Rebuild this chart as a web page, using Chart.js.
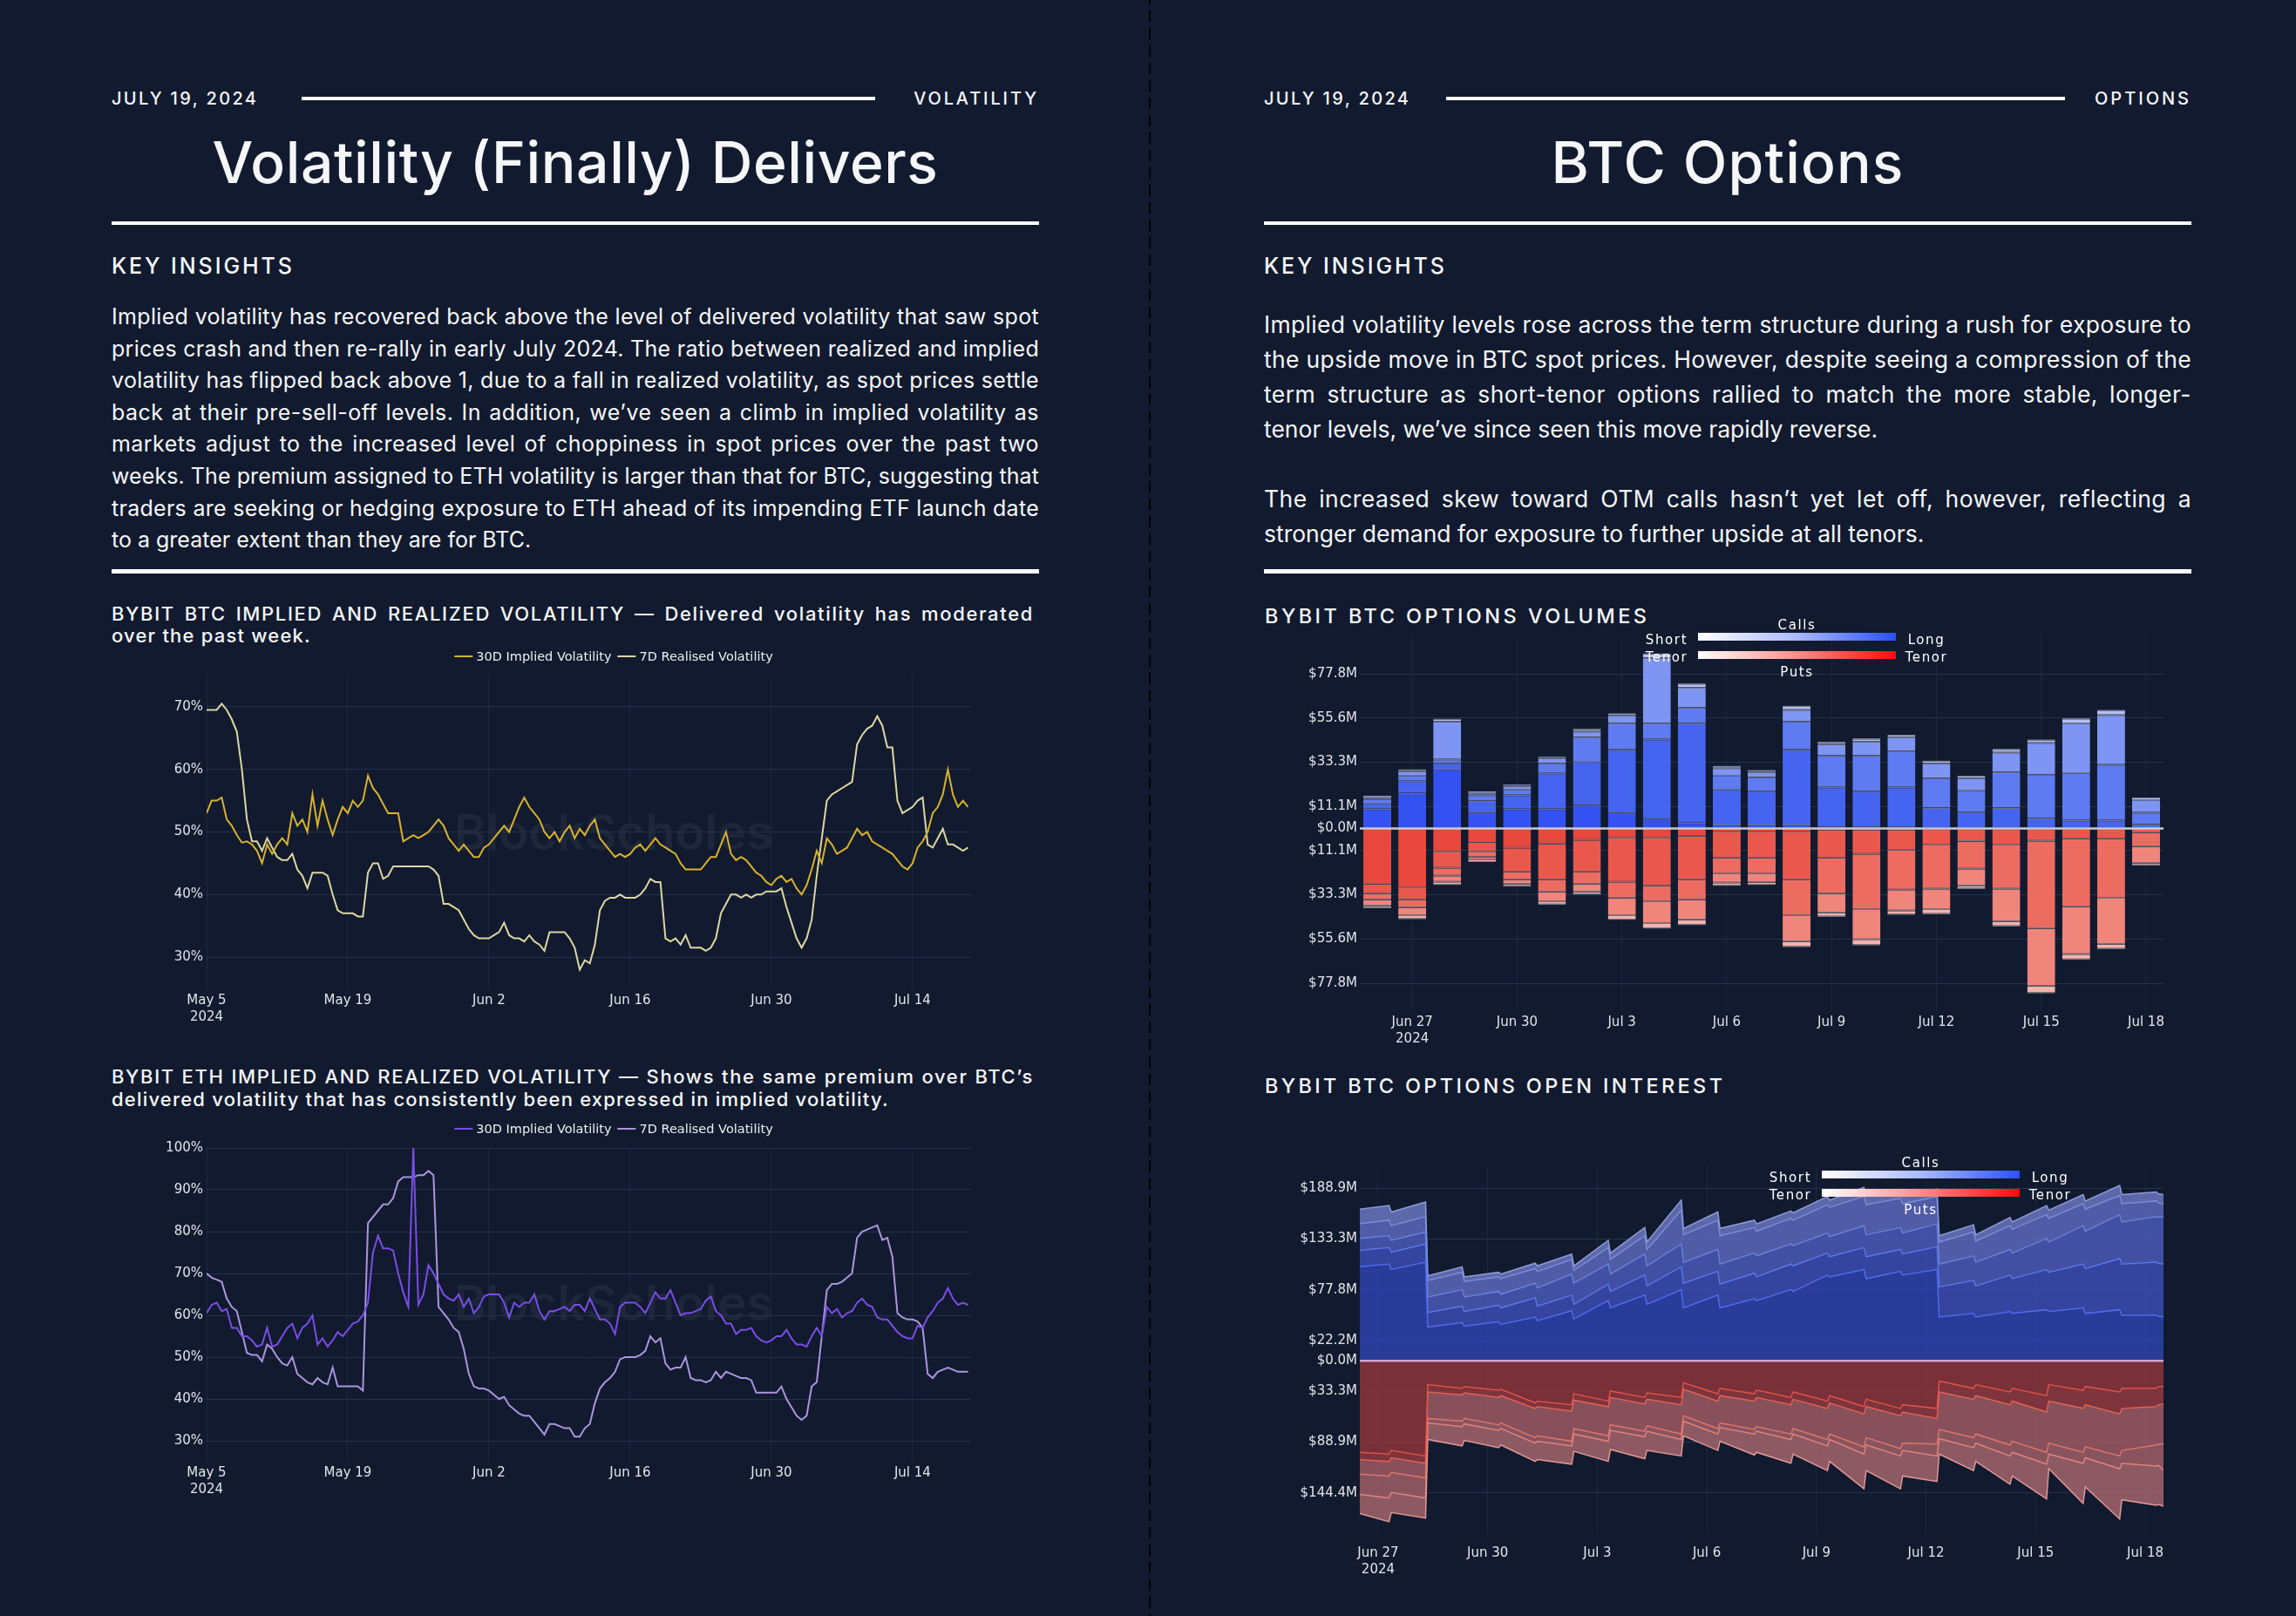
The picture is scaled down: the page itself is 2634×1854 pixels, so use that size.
<!DOCTYPE html>
<html lang="en">
<head>
<meta charset="utf-8">
<title>Volatility (Finally) Delivers / BTC Options</title>
<script src="https://cdn.jsdelivr.net/npm/chart.js@4.4.1/dist/chart.umd.min.js"></script>
<style>
  html, body { margin: 0; padding: 0; background: #111a2e; }
  body { position: relative; width: 2634px; height: 1854px; overflow: hidden; color: #f5f6f8; font-family: Inter, "Noto Sans", sans-serif; }
  .divider { position: absolute; left: 1318px; top: -8px; width: 2px; height: 1870px;
             background: repeating-linear-gradient(to bottom, #000 0 13px, transparent 13px 20px); }
  .hdr { position: absolute; top: 100px; width: 1064px; height: 26px; display: flex; align-items: center; }
  .kicker { font-size: 20px; font-weight: 500; letter-spacing: 2.6px; line-height: 26px; white-space: nowrap; }
  .hdr .rule { flex: 1; height: 4px; background: #fff; margin: 0 44px 0 50px; }
  .title { position: absolute; top: 153px; width: 1064px; text-align: center; font-size: 66px; line-height: 66px; font-weight: 500; white-space: nowrap; }
  .hr { position: absolute; width: 1064px; height: 4px; background: #fff; }
  .key { position: absolute; top: 293px; font-size: 25px; line-height: 25px; font-weight: 500; white-space: nowrap; }
  .body { position: absolute; width: 1064px; font-size: 25px; }
  .jl { text-align: justify; text-align-last: justify; }
  .jl.measure { text-align-last: left; white-space: nowrap; }
  .ctitle { position: absolute; width: 1058px; font-size: 22px; line-height: 25px; font-weight: 500; letter-spacing: 1.2px; }
  .rtitle { position: absolute; font-size: 23.5px; line-height: 24px; font-weight: 500; white-space: nowrap; }
  .cw { position: absolute; z-index: 2; }
  .mark { position: absolute; z-index: 1; transform: translate(-50%, -50%); font-size: 56px; font-weight: 600;
          color: rgba(150, 150, 165, 0.10); white-space: nowrap; }
  .lg { position: absolute; z-index: 3; transform: translate(-50%, -50%); display: flex; align-items: center;
        font-family: "DejaVu Sans", sans-serif; font-size: 14.5px; line-height: 18px; color: #eceef2; white-space: nowrap; }
  .lg .sw { display: inline-block; width: 21px; height: 2px; margin-right: 4px; }
  .lg .gap { display: inline-block; width: 7px; }
  .cb-bar { position: absolute; z-index: 3; width: 227px; height: 9px; }
  .cb-txt { position: absolute; z-index: 3; transform: translate(-50%, -50%); font-family: "DejaVu Sans", sans-serif;
            font-size: 15px; letter-spacing: 1.6px; line-height: 18px; color: #fff; white-space: nowrap; }
</style>
</head>
<body>
<div class="divider"></div>

<!-- left page -->
<div class="hdr" style="left:128px;"><span class="kicker" id="dateL">JULY 19, 2024</span><span class="rule"></span><span class="kicker" id="secL">VOLATILITY</span></div>
<div class="title" style="left:128px;"><span id="titleL">Volatility (Finally) Delivers</span></div>
<div class="hr" style="left:128px;top:254px;"></div>
<div class="key" style="left:128px;"><span id="keyL">KEY INSIGHTS</span></div>
<div class="body" style="left:128px;top:345px;line-height:36.6px;">
  <div class="jl"><span>Implied volatility has recovered back above the level of delivered volatility that saw spot</span></div>
  <div class="jl"><span>prices crash and then re-rally in early July 2024. The ratio between realized and implied</span></div>
  <div class="jl"><span>volatility has flipped back above 1, due to a fall in realized volatility, as spot prices settle</span></div>
  <div class="jl"><span>back at their pre-sell-off levels. In addition, we’ve seen a climb in implied volatility as</span></div>
  <div class="jl"><span>markets adjust to the increased level of choppiness in spot prices over the past two</span></div>
  <div class="jl"><span>weeks. The premium assigned to ETH volatility is larger than that for BTC, suggesting that</span></div>
  <div class="jl"><span>traders are seeking or hedging exposure to ETH ahead of its impending ETF launch date</span></div>
  <div><span>to a greater extent than they are for BTC.</span></div>
</div>
<div class="hr" style="left:128px;top:653px;height:5px;"></div>

<div class="ctitle" style="left:128px;top:692px;">
  <div class="jl"><span>BYBIT BTC IMPLIED AND REALIZED VOLATILITY — Delivered volatility has moderated</span></div>
  <div><span>over the past week.</span></div>
</div>
<div class="mark" style="left:704px;top:955px;">BlockScholes</div>
<div class="cw" style="left:128px;top:755px;width:1006px;height:435px;"><canvas id="btcChart"></canvas></div>
<div class="lg" id="btcLegend" style="left:704px;top:753px;"></div>

<div class="ctitle" style="left:128px;top:1222px;line-height:26px;">
  <div class="jl"><span>BYBIT ETH IMPLIED AND REALIZED VOLATILITY — Shows the same premium over BTC’s</span></div>
  <div><span>delivered volatility that has consistently been expressed in implied volatility.</span></div>
</div>
<div class="mark" style="left:704px;top:1495px;">BlockScholes</div>
<div class="cw" style="left:128px;top:1297px;width:1006px;height:436px;"><canvas id="ethChart"></canvas></div>
<div class="lg" id="ethLegend" style="left:704px;top:1295px;"></div>

<!-- right page -->
<div class="hdr" style="left:1450px;"><span class="kicker" id="dateR">JULY 19, 2024</span><span class="rule" style="margin:0 34px 0 41px;"></span><span class="kicker" id="secR">OPTIONS</span></div>
<div class="title" style="left:1450px;"><span id="titleR">BTC Options</span></div>
<div class="hr" style="left:1450px;top:254px;"></div>
<div class="key" style="left:1450px;"><span id="keyR">KEY INSIGHTS</span></div>
<div class="body" style="left:1450px;top:352px;line-height:40px;font-size:26.5px;">
  <div class="jl"><span>Implied volatility levels rose across the term structure during a rush for exposure to</span></div>
  <div class="jl"><span>the upside move in BTC spot prices. However, despite seeing a compression of the</span></div>
  <div class="jl"><span>term structure as short-tenor options rallied to match the more stable, longer-</span></div>
  <div><span>tenor levels, we’ve since seen this move rapidly reverse.</span></div>
  <div style="height:40px;"></div>
  <div class="jl"><span>The increased skew toward OTM calls hasn’t yet let off, however, reflecting a</span></div>
  <div><span>stronger demand for exposure to further upside at all tenors.</span></div>
</div>
<div class="hr" style="left:1450px;top:653px;height:5px;"></div>

<div class="rtitle" style="left:1451px;top:695px;"><span id="volTitle">BYBIT BTC OPTIONS VOLUMES</span></div>
<div class="cw" style="left:1490px;top:709px;width:1012px;height:501px;"><canvas id="volChart"></canvas></div>

<div class="rtitle" style="left:1451px;top:1234px;"><span id="oiTitle">BYBIT BTC OPTIONS OPEN INTEREST</span></div>
<div class="cw" style="left:1490px;top:1317px;width:1012px;height:503px;"><canvas id="oiChart"></canvas></div>

<script>
// ---------- volatility charts (samples every 12h from May 5 2024) ----------
const SAMPLE_STEP = 0.5;
const volDayTicks = [0, 14, 28, 42, 56, 70];
const volDayLabels = [['May 5', '2024'], 'May 19', 'Jun 2', 'Jun 16', 'Jun 30', 'Jul 14'];
const btcYTicks = [30, 40, 50, 60, 70];
const ethYTicks = [30, 40, 50, 60, 70, 80, 90, 100];

const btcImplied = [
  53, 55, 55, 55.5, 52, 51, 49.5, 48.3, 48.5, 48,
  47, 45, 48, 46.5, 48, 49, 48, 53, 51, 52,
  50, 56, 51, 55, 52, 49.5, 52, 54, 53, 55,
  54, 55, 59, 57, 56, 54.5, 53, 53, 53, 48.5,
  49, 49.5, 49, 49.5, 50, 51, 52, 51, 49, 48,
  47, 48, 47, 46, 46, 47.5, 48, 49, 50, 51,
  50, 52, 54, 55.5, 54, 53, 52, 50, 49, 50,
  48.5, 50, 51, 49, 50.5, 49.5, 51, 52, 49, 48,
  47, 46, 46.5, 46, 46.5, 47.5, 48, 47, 48, 49,
  48, 47.5, 47, 46.5, 45, 44, 44, 44, 44, 45,
  46, 46, 48, 50, 46.5, 45.5, 46, 45.5, 44.5, 43.5,
  43, 42, 41.5, 42.5, 43, 42, 42.5, 41, 40, 41.5,
  44, 47, 45, 49, 48, 46.5, 47, 47.5, 49, 50.5,
  49.5, 50, 48.5, 48, 47.5, 47, 46.5, 45.5, 44.5, 44,
  45, 47.5, 48.5, 50, 53, 54, 56, 60, 56, 54,
  55, 54
];
const btcRealised = [
  69.5, 69.5, 69.5, 70.5, 69.5, 68, 66, 60, 52, 48.5,
  48.5, 47, 49, 47.5, 46, 45.5, 45.5, 46.5, 44, 43,
  41, 43.5, 43.5, 43.5, 43, 40, 37.5, 37, 37, 37,
  36.5, 36.5, 43.5, 45, 45, 42.5, 43, 44.5, 44.5, 44.5,
  44.5, 44.5, 44.5, 44.5, 44.5, 44, 43, 38.5, 38.5, 38,
  37.5, 36, 34.5, 33.5, 33, 33, 33, 33.5, 34, 35.5,
  33.5, 33, 33, 32.5, 33.5, 32.5, 32, 31, 34, 34,
  34, 34, 33, 31.5, 28, 29.5, 29, 32, 37.5, 39,
  39.5, 39.5, 40, 39.5, 39.5, 39.5, 40, 41, 42.5, 42,
  42, 33, 32.5, 33, 32, 33.5, 31.5, 31.5, 31.5, 31,
  31.5, 33, 37, 38.5, 40, 40, 39.5, 40, 39.5, 40,
  40, 40.5, 40.5, 40.5, 41, 38, 35.5, 33, 31.5, 33,
  36, 43, 49, 55, 56, 56.5, 57, 57.5, 58, 64,
  65.5, 66.5, 67, 68.5, 67, 63.5, 63.5, 55, 53, 53.5,
  54, 55, 55.5, 48, 47.5, 49, 50.5, 48, 48, 47.5,
  47, 47.5
];
const ethImplied = [
  60.5, 62.5, 63, 61, 61.5, 57, 57, 55, 55, 54,
  52.5, 53, 57, 52.5, 53, 55, 57, 58, 54.5, 57,
  58, 60, 53, 54.5, 52.5, 54, 56, 55, 56.5, 58,
  58.5, 60, 63, 75, 79, 76, 76, 75.5, 70, 65.5,
  62, 100, 62.5, 65, 72, 70, 67.5, 65, 64, 63.5,
  65, 62, 64, 60.5, 62, 64.5, 65, 65, 65, 63,
  59.5, 63, 62, 63, 63, 65, 61, 59, 61, 61,
  61.5, 62, 61, 62.5, 62.5, 61, 64, 61.5, 59, 59,
  58, 55.5, 62, 63, 63, 63, 62, 60.5, 63, 65.5,
  64, 64, 66, 63, 60, 60.5, 60.5, 61, 61.5, 63.5,
  64.5, 61, 60, 58, 58, 55.5, 56.5, 56.5, 57, 55,
  54, 53.5, 54, 55, 55, 56.5, 54.5, 53, 53, 52.5,
  55, 57, 55, 62, 60.5, 61.5, 59.5, 60.5, 61, 63,
  64, 62.5, 62, 59.5, 59, 59, 57.5, 56, 55, 54.5,
  54.5, 57.5, 57, 59.5, 61, 63, 64, 66.5, 64, 62.5,
  63, 62.5
];
const ethRealised = [
  70, 69, 68.5, 68, 64, 62, 61, 56, 51, 50.5,
  50.5, 49, 53, 52, 50, 48.5, 48, 50, 46, 45,
  44, 43.5, 45, 44, 43.5, 47.5, 43, 43, 43, 43,
  43, 42, 82, 83.5, 85, 86.5, 86.5, 88, 92, 93,
  93, 93, 93.5, 93.5, 94.5, 93.5, 62, 60.5, 59, 57,
  56, 52, 46, 43, 42.5, 42.5, 42, 41, 40, 40.5,
  38.5, 37.5, 36.5, 36, 36, 34.5, 33, 31.5, 34, 34,
  33.5, 33, 33, 31, 31, 33, 34, 39, 42.5, 44,
  45, 46.5, 49.5, 50, 50, 50, 50.5, 51.5, 55, 53.5,
  54.5, 48.5, 47, 47.5, 47.5, 50, 45, 44.5, 44.5, 44,
  44.5, 46.5, 45, 46.5, 46, 45.5, 45, 45, 44.5, 41.5,
  41.5, 41.5, 41.5, 41.5, 43, 40, 38, 36, 35, 36,
  43, 44, 55, 66, 67.5, 67.5, 68, 69, 70, 78.5,
  80, 80.5, 81, 81.5, 78, 78.5, 74, 60.5, 59.5, 59,
  59, 58.5, 57, 46, 45, 46.5, 47, 47.5, 47, 46.5,
  46.5, 46.5
];

// ---------- BTC options volumes ($M per day, tenor buckets long -> short) ----------
const flowDates = ['Jun 26', 'Jun 27', 'Jun 28', 'Jun 29', 'Jun 30', 'Jul 1', 'Jul 2', 'Jul 3', 'Jul 4', 'Jul 5', 'Jul 6', 'Jul 7',
                   'Jul 8', 'Jul 9', 'Jul 10', 'Jul 11', 'Jul 12', 'Jul 13', 'Jul 14', 'Jul 15', 'Jul 16', 'Jul 17', 'Jul 18'];
const flowTickIdx = [1, 4, 7, 10, 13, 16, 19, 22];
const flowTickText = [['Jun 27', '2024'], 'Jun 30', 'Jul 3', 'Jul 6', 'Jul 9', 'Jul 12', 'Jul 15', 'Jul 18'];
const flowYTicks = [-77.8, -55.6, -33.3, -11.1, 0, 11.1, 33.3, 55.6, 77.8];

const callVol1 = [10, 18, 30, 8, 10, 10, 12, 8, 5, 3, 2, 2, 2, 1, 1, 1, 0.5, 0.5, 0.5, 0.3, 0.3, 0.3, 0.2];
const callVol2 = [3, 6, 3, 6, 7, 18, 22, 32, 40, 50, 18, 17, 38, 20, 18, 20, 10, 8, 10, 5, 4, 4, 2];
const callVol3 = [2, 3, 2, 3, 3, 5, 12, 13, 8, 8, 7, 7, 14, 16, 18, 18, 15, 11, 18, 22, 24, 28, 6];
const callVol4 = [1, 2, 19, 1.2, 1.6, 2.5, 3, 4, 33, 10, 3.6, 2.5, 6, 5.5, 7, 7, 7.5, 6, 10, 16, 25, 25, 6.5];
const callVol5 = [0.6, 0.8, 1.2, 0.6, 0.6, 0.8, 1.2, 1, 2.1, 2, 1, 1, 1.8, 1.2, 1.4, 1.3, 1.2, 1.2, 1.6, 1.5, 2.2, 2.4, 1];
const putVol1 = [28, 30, 12, 7, 10, 8, 6, 5, 5, 4, 2, 2, 2, 1, 1, 1, 0.5, 0.5, 0.5, 0.4, 0.4, 0.3, 0.2];
const putVol2 = [5, 6, 8, 5, 12, 18, 16, 22, 24, 22, 13, 13, 24, 14, 12, 10, 8, 6, 8, 6, 5, 5, 2];
const putVol3 = [3, 4, 4, 2.5, 4, 6, 6, 8, 8, 10, 8, 8, 18, 18, 28, 20, 22, 14, 22, 44, 34, 30, 7];
const putVol4 = [3, 4, 3, 1.5, 2, 5, 4, 9, 11, 10, 4.5, 4.3, 13, 9.5, 15, 10.5, 10.5, 8.4, 16.5, 29, 24, 23, 8.3];
const putVol5 = [1.1, 1.7, 1.5, 0.8, 1.2, 1.4, 1.3, 2, 2.4, 2.6, 1.4, 1.2, 2.7, 2, 2.8, 2, 2.1, 1.5, 2.3, 3.5, 2.7, 2.4, 1.2];

// ---------- BTC options open interest ($M, cumulative levels; days from Jun 27 2024) ----------
const oiTime = [-0.5, 0.3, 0.36, 1.3, 1.36, 2.3, 2.36, 3.3, 3.36, 4.3, 4.36, 5.3, 5.36, 6.3, 6.36, 7.3, 7.36, 8.3, 8.36,
                9.3, 9.36, 10.3, 10.36, 11.3, 11.36, 12.3, 12.36, 13.3, 13.36, 14.3, 14.36, 15.3, 15.36, 16.3, 16.36,
                17.3, 17.36, 18.3, 18.36, 19.3, 19.36, 20.3, 20.36, 21.3, 21.36, 21.5];
const oiTickDays = [0, 3, 6, 9, 12, 15, 18, 21];
const oiTickText = [['Jun 27', '2024'], 'Jun 30', 'Jul 3', 'Jul 6', 'Jul 9', 'Jul 12', 'Jul 15', 'Jul 18'];
const oiYTicks = [-144.4, -88.9, -33.3, 0, 22.2, 77.8, 133.3, 188.9];

const oiCall1 = [103, 106, 100, 108, 37, 42, 38, 43, 40, 48, 44, 55, 46, 66, 58, 72, 62, 78, 58, 72, 58, 68, 66, 78, 76,
                 94, 92, 100, 90, 98, 94, 100, 48, 52, 48, 54, 52, 56, 54, 58, 52, 56, 50, 50, 49, 48];
const oiCall2 = [121, 124, 119, 128, 53, 60, 54, 61, 58, 69, 60, 72, 62, 84, 76, 94, 82, 103, 85, 98, 84, 96, 92, 106, 104,
                 118, 114, 124, 114, 122, 117, 125, 81, 88, 82, 94, 90, 100, 97, 106, 101, 112, 106, 108, 107, 106];
const oiCall3 = [134, 137, 132, 141, 70, 78, 70, 76, 73, 85, 80, 95, 85, 106, 95, 117, 104, 128, 108, 122, 106, 118, 115, 128, 126,
                 140, 136, 148, 138, 146, 140, 150, 106, 115, 108, 122, 118, 134, 130, 148, 142, 160, 152, 158, 157, 158];
const oiCall4 = [150, 154, 148, 158, 88, 97, 87, 92, 90, 101, 98, 111, 99, 124, 111, 137, 122, 165, 138, 154, 137, 146, 142, 156, 154,
                 171, 168, 180, 171, 178, 172, 180, 130, 141, 131, 148, 144, 160, 156, 172, 166, 181, 172, 175, 173, 172];
const oiCall5 = [166, 170, 163, 174, 93, 103, 92, 97, 95, 107, 104, 117, 104, 132, 118, 146, 130, 176, 145, 163, 145, 154, 150, 164, 162,
                 180, 176, 190, 180, 187, 180, 188, 137, 149, 138, 157, 152, 170, 165, 182, 175, 192, 182, 185, 183, 182];
const oiPut1 = [100, 102, 98, 104, 26, 30, 28, 32, 31, 46, 44, 48, 36, 44, 33, 40, 35, 40, 24, 36, 30, 36, 32, 40, 34,
                44, 38, 50, 42, 52, 48, 52, 22, 30, 26, 34, 30, 38, 26, 32, 28, 34, 30, 30, 28, 28];
const oiPut2 = [108, 110, 106, 112, 34, 37, 35, 40, 38, 52, 50, 55, 43, 50, 40, 47, 42, 48, 31, 44, 38, 44, 40, 48, 42,
                52, 46, 58, 50, 60, 56, 63, 34, 42, 38, 48, 44, 56, 44, 52, 48, 58, 52, 50, 48, 47];
const oiPut3 = [124, 126, 122, 128, 63, 66, 63, 70, 68, 84, 82, 88, 74, 82, 70, 77, 71, 80, 60, 74, 68, 75, 72, 80, 74,
                86, 80, 94, 84, 96, 90, 91, 75, 84, 80, 92, 88, 100, 90, 100, 94, 104, 98, 92, 91, 91];
const oiPut4 = [146, 150, 144, 150, 68, 72, 69, 76, 74, 90, 88, 93, 80, 88, 76, 83, 77, 86, 66, 80, 73, 80, 77, 86, 80,
                93, 86, 102, 92, 104, 98, 104, 85, 95, 90, 104, 100, 113, 102, 112, 106, 118, 112, 115, 114, 120];
const oiPut5 = [167, 176, 166, 172, 86, 93, 87, 95, 92, 110, 108, 113, 99, 110, 97, 107, 98, 104, 82, 98, 88, 103, 100, 112, 102,
                120, 110, 140, 120, 140, 126, 132, 102, 120, 110, 135, 126, 151, 118, 156, 138, 173, 152, 158, 157, 159];

// ---------- styles ----------
const GRID_H = '#243150';
const GRID_V = '#1c2741';
const BTC_COLORS = ['#d8b22c', '#dcd7a2'];
const ETH_COLORS = ['#7a4de6', '#ab95de'];
const CALL_BAR = ['#3452f2', '#4564f0', '#5f7bf1', '#7f95f3', '#b4c1f8'];
const PUT_BAR = ['#e8483d', '#ea584d', '#ed6c61', '#f0857c', '#f5b3ac'];
const OI_CALL_FILL = ['rgba(48,69,181,0.8)', 'rgba(61,79,188,0.8)', 'rgba(78,94,191,0.8)', 'rgba(96,109,195,0.8)', 'rgba(111,124,201,0.8)'];
const OI_CALL_LINE = ['rgba(84,112,245,0.9)', 'rgba(96,122,238,0.9)', 'rgba(112,136,232,0.85)', 'rgba(128,148,226,0.85)', 'rgba(150,164,226,0.9)'];
const OI_PUT_FILL = ['rgba(148,54,59,0.8)', 'rgba(152,59,64,0.8)', 'rgba(166,94,101,0.8)', 'rgba(168,99,106,0.8)', 'rgba(172,106,112,0.8)'];
const OI_PUT_LINE = ['rgba(232,86,76,0.9)', 'rgba(236,102,90,0.9)', 'rgba(239,124,112,0.85)', 'rgba(240,140,132,0.85)', 'rgba(238,162,156,0.9)'];

Chart.defaults.font.family = '"DejaVu Sans", Verdana, sans-serif';
Chart.defaults.font.size = 15;
Chart.defaults.color = '#e2e4ea';
Chart.defaults.animation = false;

const money = v => '$' + Math.abs(v).toFixed(1) + 'M';

// horizontal line at zero, drawn over the marks
const zeroLine = {
  id: 'zeroLine',
  afterDatasetsDraw(chart, args, opts) {
    const y = chart.scales.y.getPixelForValue(0);
    const { left, right } = chart.chartArea;
    const ctx = chart.ctx;
    ctx.save();
    ctx.strokeStyle = opts.color;
    ctx.lineWidth = opts.width;
    ctx.beginPath();
    ctx.moveTo(left, y);
    ctx.lineTo(right, y);
    ctx.stroke();
    ctx.restore();
  }
};

function volLineChart(id, implied, realised, colors, yMin, yMax, yTicks, tickPad) {
  const pts = arr => arr.map((v, i) => ({ x: i * SAMPLE_STEP, y: v }));
  return new Chart(document.getElementById(id), {
    type: 'line',
    data: {
      datasets: [
        { label: '30D Implied Volatility', data: pts(implied), borderColor: colors[0], backgroundColor: colors[0] },
        { label: '7D Realised Volatility', data: pts(realised), borderColor: colors[1], backgroundColor: colors[1] }
      ]
    },
    options: {
      responsive: true,
      maintainAspectRatio: false,
      events: [],
      layout: { padding: { top: 20, right: 20, left: 0, bottom: 0 } },
      plugins: { legend: { display: false }, tooltip: { enabled: false } },
      elements: { point: { radius: 0 }, line: { borderWidth: 2, tension: 0 } },
      scales: {
        x: {
          type: 'linear', min: 0, max: 75.8,
          afterBuildTicks: s => { s.ticks = volDayTicks.map(v => ({ value: v })); },
          afterFit: s => { s.height = 56; },
          ticks: { padding: tickPad, maxRotation: 0, autoSkip: false, font: { lineHeight: 1.27 },
                   callback: (v, i) => volDayLabels[i] },
          grid: { color: GRID_V, drawTicks: false },
          border: { display: false }
        },
        y: {
          min: yMin, max: yMax,
          afterBuildTicks: s => { s.ticks = yTicks.map(v => ({ value: v })); },
          afterFit: s => { s.width = 109; },
          ticks: { padding: 4, callback: v => v + '%' },
          grid: { color: GRID_H, drawTicks: false },
          border: { display: false }
        }
      }
    }
  });
}

function buildLegend(id, chart) {
  const box = document.getElementById(id);
  chart.data.datasets.forEach((ds, i) => {
    if (i > 0) box.insertAdjacentHTML('beforeend', '<span class="gap"></span>');
    box.insertAdjacentHTML('beforeend', '<span class="sw" style="background:' + ds.borderColor + '"></span><span>' + ds.label + '</span>');
  });
}

function colorbar(left, top) {
  const right = left + 227;
  const mid = left + 113.5;
  const html = [
    ['Calls', mid, top - 9.5], ['Puts', mid, top + 45],
    ['Short', left - 36, top + 8], ['Tenor', left - 36, top + 27.5],
    ['Long', right + 35, top + 8], ['Tenor', right + 35, top + 27.5]
  ].map(t => '<div class="cb-txt" style="left:' + t[1] + 'px;top:' + t[2] + 'px;">' + t[0] + '</div>').join('');
  document.body.insertAdjacentHTML('beforeend',
    '<div class="cb-bar" style="left:' + left + 'px;top:' + top + 'px;background:linear-gradient(to right,#ffffff,#a9b9ff 50%,#2b50ff);"></div>' +
    '<div class="cb-bar" style="left:' + left + 'px;top:' + (top + 21) + 'px;background:linear-gradient(to right,#ffffff,#ff9a96 45%,#ff0a0a);"></div>' + html);
}

// ---------- text fitting ----------
function fitWidth(el, target) {
  el.style.display = 'inline-block';
  el.style.letterSpacing = '0px';
  const w = el.getBoundingClientRect().width;
  const n = el.textContent.length;
  el.style.letterSpacing = ((target - w) / (n - 1)) + 'px';
}
// tighten or loosen tracking a little so a justified line fills its box without wrapping
function fitLine(line) {
  const span = line.firstElementChild;
  line.classList.add('measure');
  const base = parseFloat(getComputedStyle(span).letterSpacing) || 0;
  const n = span.textContent.length;
  const w = span.getBoundingClientRect().width;
  let ls = base + Math.max(-0.9, Math.min(0.45, (line.clientWidth - w) / n));
  span.style.letterSpacing = ls + 'px';
  for (let k = 0; k < 40 && span.getBoundingClientRect().width > line.clientWidth; k++) {
    ls -= 0.05;
    span.style.letterSpacing = ls + 'px';
  }
  line.classList.remove('measure');
}

function layoutText() {
  fitWidth(document.getElementById('dateL'), 166);
  fitWidth(document.getElementById('dateR'), 166);
  fitWidth(document.getElementById('secL'), 141);
  fitWidth(document.getElementById('secR'), 108);
  fitWidth(document.getElementById('titleL'), 832);
  fitWidth(document.getElementById('titleR'), 404);
  fitWidth(document.getElementById('keyL'), 207);
  fitWidth(document.getElementById('keyR'), 207);
  fitWidth(document.getElementById('volTitle'), 438);
  fitWidth(document.getElementById('oiTitle'), 525);
  document.querySelectorAll('.jl').forEach(fitLine);
}

function buildCharts() {
  const btc = volLineChart('btcChart', btcImplied, btcRealised, BTC_COLORS, 25, 75, btcYTicks, 4.5);
  buildLegend('btcLegend', btc);
  const eth = volLineChart('ethChart', ethImplied, ethRealised, ETH_COLORS, 25, 100, ethYTicks, 3.5);
  buildLegend('ethLegend', eth);

  // volumes
  const callSets = [callVol1, callVol2, callVol3, callVol4, callVol5];
  const putSets = [putVol1, putVol2, putVol3, putVol4, putVol5];
  const volDatasets = callSets.map((d, i) => ({
    label: 'Calls ' + (i + 1), data: d, backgroundColor: CALL_BAR[i],
    borderColor: 'rgba(255,255,255,0.4)', borderWidth: { top: 1.5, bottom: 0, left: 0, right: 0 }, borderSkipped: false
  })).concat(putSets.map((d, i) => ({
    label: 'Puts ' + (i + 1), data: d.map(v => -v), backgroundColor: PUT_BAR[i],
    borderColor: 'rgba(255,255,255,0.4)', borderWidth: { top: 0, bottom: 1.5, left: 0, right: 0 }, borderSkipped: false
  })));
  new Chart(document.getElementById('volChart'), {
    type: 'bar',
    data: { labels: flowDates, datasets: volDatasets },
    options: {
      responsive: true, maintainAspectRatio: false, events: [],
      layout: { padding: { top: 20, right: 20, left: 0, bottom: 0 } },
      datasets: { bar: { barPercentage: 0.8, categoryPercentage: 1.0 } },
      plugins: { legend: { display: false }, tooltip: { enabled: false }, zeroLine: { color: '#c9ccd6', width: 2.5 } },
      scales: {
        x: {
          stacked: true,
          afterFit: s => { s.height = 50; },
          ticks: { padding: 3.5, maxRotation: 0, autoSkip: false, font: { lineHeight: 1.27 },
                   callback: (v, i) => { const k = flowTickIdx.indexOf(i); return k >= 0 ? flowTickText[k] : ''; } },
          grid: { offset: false, drawTicks: false, color: c => flowTickIdx.includes(c.index) ? GRID_V : 'rgba(0,0,0,0)' },
          border: { display: false }
        },
        y: {
          stacked: true, min: -91.8, max: 97.1,
          afterBuildTicks: s => { s.ticks = flowYTicks.map(v => ({ value: v })); },
          afterFit: s => { s.width = 70; },
          ticks: { padding: 3, callback: money },
          grid: { drawTicks: false, color: c => (c.tick && c.tick.value === 0) ? 'rgba(0,0,0,0)' : GRID_H },
          border: { display: false }
        }
      }
    },
    plugins: [zeroLine]
  });

  // open interest
  const toPts = (arr, sign) => arr.map((v, k) => ({ x: oiTime[k], y: sign * v }));
  const oiCalls = [oiCall1, oiCall2, oiCall3, oiCall4, oiCall5];
  const oiPuts = [oiPut1, oiPut2, oiPut3, oiPut4, oiPut5];
  const oiDatasets = oiCalls.map((d, i) => ({
    label: 'Calls ' + (i + 1), data: toPts(d, 1), borderColor: OI_CALL_LINE[i], backgroundColor: OI_CALL_FILL[i],
    fill: i === 0 ? 'origin' : '-1'
  })).concat(oiPuts.map((d, i) => ({
    label: 'Puts ' + (i + 1), data: toPts(d, -1), borderColor: OI_PUT_LINE[i], backgroundColor: OI_PUT_FILL[i],
    fill: i === 0 ? 'origin' : '-1'
  })));
  new Chart(document.getElementById('oiChart'), {
    type: 'line',
    data: { datasets: oiDatasets },
    options: {
      responsive: true, maintainAspectRatio: false, events: [],
      layout: { padding: { top: 20, right: 20, left: 0, bottom: 0 } },
      elements: { point: { radius: 0 }, line: { borderWidth: 1.5, tension: 0 } },
      plugins: { legend: { display: false }, tooltip: { enabled: false }, zeroLine: { color: 'rgba(214,172,214,0.95)', width: 2.5 } },
      scales: {
        x: {
          type: 'linear', min: -0.5, max: 21.5,
          afterBuildTicks: s => { s.ticks = oiTickDays.map(v => ({ value: v })); },
          afterFit: s => { s.height = 60; },
          ticks: { padding: 12.5, maxRotation: 0, autoSkip: false, font: { lineHeight: 1.27 },
                   callback: (v, i) => oiTickText[i] },
          grid: { color: GRID_V, drawTicks: false },
          border: { display: false }
        },
        y: {
          min: -189.5, max: 214,
          afterBuildTicks: s => { s.ticks = oiYTicks.map(v => ({ value: v })); },
          afterFit: s => { s.width = 70; },
          ticks: { padding: 3, callback: money },
          grid: { drawTicks: false, color: c => (c.tick && c.tick.value === 0) ? 'rgba(0,0,0,0)' : GRID_H },
          border: { display: false }
        }
      }
    },
    plugins: [zeroLine]
  });

  colorbar(1948, 726);
  colorbar(2090, 1343);
}

buildCharts();
document.fonts.ready.then(layoutText);
</script>
</body>
</html>
